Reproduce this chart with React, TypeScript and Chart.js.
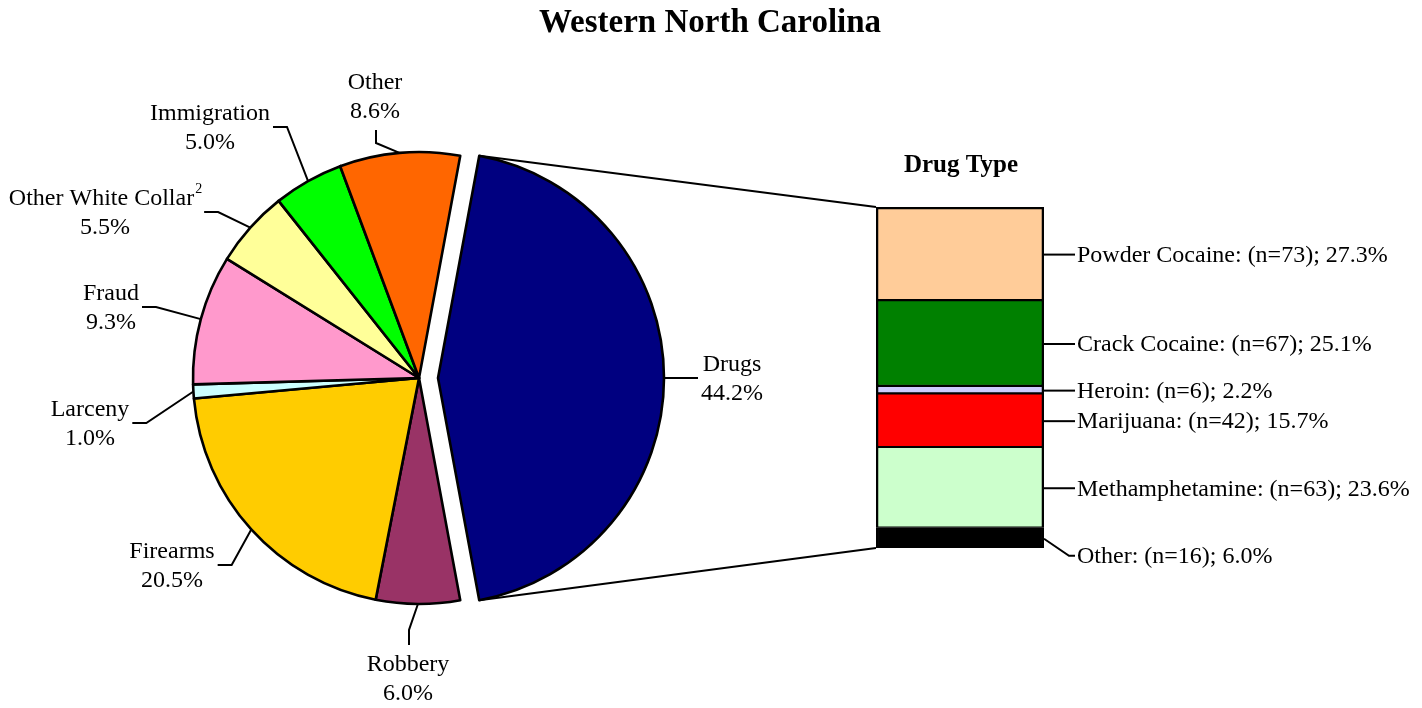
import React, { useEffect, useRef } from 'react';
import { Chart, registerables } from 'chart.js';

Chart.register(...registerables);

// ---------- data ----------
const chartTitle = 'Western North Carolina';
const pieNames = ['Drugs', 'Robbery', 'Firearms', 'Larceny', 'Fraud', 'Other White Collar', 'Immigration', 'Other'];
const pieValues = [44.2, 6.0, 20.5, 1.0, 9.3, 5.5, 5.0, 8.6];
const pieNotes = ['', '', '', '', '', '2', '', ''];
const pieColors = ['#000080', '#993366', '#FFCC00', '#CCFFFF', '#FF99CC', '#FFFF99', '#00FF00', '#FF6600'];

const barTitle = 'Drug Type';
const drugNames = ['Powder Cocaine', 'Crack Cocaine', 'Heroin', 'Marijuana', 'Methamphetamine', 'Other'];
const drugCounts = [73, 67, 6, 42, 63, 16];
const drugPercents = [27.3, 25.1, 2.2, 15.7, 23.6, 6.0];
const drugColors = ['#FFCC99', '#008000', '#CCCCFF', '#FF0000', '#CCFFCC', '#000000'];

// ---------- layout / style ----------
const W = 1422;
const H = 708;
const PIE_CX = 419;
const PIE_CY = 378;
const PIE_R = 226;
const EXPLODE = 19;
const BAR_LEFT = 876;
const BAR_RIGHT = 1044;
const BAR_TOP = 207;
const BAR_BOTTOM = 548;
const FONT = '"Liberation Serif", "Times New Roman", serif';
const LABEL_SIZE = 24;
const LINE_H = 29;
// label centre offsets relative to each slice's centre, and side of the leader line
const pieLabelPos: [number, number, string][] = [
  [294, 1, 'left'],
  [-11, 301, 'top'],
  [-247, 188, 'right'],
  [-329, 46, 'right'],
  [-308, -70, 'right'],
  [-314, -165, 'right'],
  [-209, -250, 'right'],
  [-44, -281, 'bottom'],
];
const barLabelShift = [0, 0, 0, 0, 0, 17];

const pieSum = pieValues.reduce((a, b) => a + b, 0);
const drugSum = drugPercents.reduce((a, b) => a + b, 0);

const piePlugin = {
  id: 'pieDecor',
  afterDatasetUpdate(chart: any, args: any) {
    const el = args.meta.data[0];
    if (!el) return;
    const mid = (el.startAngle + el.endAngle) / 2;
    el.x += Math.cos(mid) * EXPLODE;
    el.y += Math.sin(mid) * EXPLODE;
  },
  afterDraw(chart: any) {
    const ctx: CanvasRenderingContext2D = chart.ctx;
    ctx.save();
    ctx.fillStyle = '#000';
    ctx.strokeStyle = '#000';
    ctx.font = `bold 33px ${FONT}`;
    ctx.textAlign = 'center';
    ctx.textBaseline = 'middle';
    ctx.fillText(chartTitle, W / 2 - 1, 23);

    const meta = chart.getDatasetMeta(0);
    meta.data.forEach((el: any, i: number) => {
      const mid = (el.startAngle + el.endAngle) / 2;
      const ax = el.x + Math.cos(mid) * el.outerRadius;
      const ay = el.y + Math.sin(mid) * el.outerRadius;
      const [dx, dy, side] = pieLabelPos[i];
      const cx = el.x + dx;
      const cy = el.y + dy;
      const l1 = pieNames[i];
      const l2 = pieValues[i].toFixed(1) + '%';
      ctx.font = `${LABEL_SIZE}px ${FONT}`;
      const w1main = ctx.measureText(l1).width;
      const w2 = ctx.measureText(l2).width;
      ctx.font = `14px ${FONT}`;
      const wsup = pieNotes[i] ? ctx.measureText(pieNotes[i]).width : 0;
      const w1 = w1main + wsup;
      const maxW = Math.max(w1, w2);
      const y1 = cy - LINE_H / 2;
      const y2 = cy + LINE_H / 2;
      ctx.font = `${LABEL_SIZE}px ${FONT}`;
      ctx.textAlign = 'left';
      ctx.fillText(l1, cx - w1 / 2, y1);
      if (pieNotes[i]) {
        ctx.font = `14px ${FONT}`;
        ctx.fillText(pieNotes[i], cx - w1 / 2 + w1main + 1, y1 - 9);
        ctx.font = `${LABEL_SIZE}px ${FONT}`;
      }
      ctx.textAlign = 'center';
      ctx.fillText(l2, cx, y2);

      ctx.lineWidth = 2;
      ctx.beginPath();
      if (side === 'right') {
        const sx = cx + maxW / 2 + 3;
        ctx.moveTo(sx, cy - 1);
        ctx.lineTo(sx + 14, cy - 1);
        ctx.lineTo(ax, ay);
      } else if (side === 'left') {
        const sx = cx - maxW / 2 - 3;
        ctx.moveTo(sx, cy - 1);
        ctx.lineTo(ax, ay);
      } else if (side === 'bottom') {
        ctx.moveTo(cx + 1, cy + 33);
        ctx.lineTo(cx + 1, cy + 46);
        ctx.lineTo(ax, ay);
      } else {
        ctx.moveTo(cx + 1, cy - 34);
        ctx.lineTo(cx + 1, cy - 49);
        ctx.lineTo(ax, ay);
      }
      ctx.stroke();
    });
    ctx.restore();
  },
};

function makeBarPlugin(pie: any) {
  return {
    id: 'barDecor',
    afterDraw(chart: any) {
      const ctx: CanvasRenderingContext2D = chart.ctx;
      const area = chart.chartArea;
      const yScale = chart.scales.y;
      ctx.save();
      ctx.fillStyle = '#000';
      ctx.strokeStyle = '#000';
      ctx.font = `bold 25px ${FONT}`;
      ctx.textAlign = 'center';
      ctx.textBaseline = 'middle';
      ctx.fillText(barTitle, (area.left + area.right) / 2 + 1, 166);

      ctx.font = `${LABEL_SIZE}px ${FONT}`;
      ctx.textAlign = 'left';
      ctx.lineWidth = 2;
      const n = drugNames.length;
      for (let i = 0; i < n; i++) {
        const el: any = chart.getDatasetMeta(n - 1 - i).data[0];
        const top = Math.min(el.y, el.base);
        const bot = Math.max(el.y, el.base);
        const mid = (top + bot) / 2 + 1;
        const right = el.x + el.width / 2;
        const ly = mid + barLabelShift[i];
        ctx.beginPath();
        ctx.moveTo(right, mid);
        if (barLabelShift[i]) {
          ctx.lineTo(right + 25, ly);
        }
        ctx.lineTo(right + 31, ly);
        ctx.stroke();
        ctx.fillText(`${drugNames[i]}: (n=${drugCounts[i]}); ${drugPercents[i].toFixed(1)}%`, right + 33, ly + 1);
      }

      // connector lines from exploded slice to the bar
      const d: any = pie.getDatasetMeta(0).data[0];
      if (d) {
        const tx = d.x + Math.cos(d.startAngle) * d.outerRadius;
        const ty = d.y + Math.sin(d.startAngle) * d.outerRadius;
        const bx = d.x + Math.cos(d.endAngle) * d.outerRadius;
        const by = d.y + Math.sin(d.endAngle) * d.outerRadius;
        const barTopY = yScale.getPixelForValue(drugSum);
        const barBotY = yScale.getPixelForValue(0);
        ctx.beginPath();
        ctx.moveTo(tx, ty);
        ctx.lineTo(area.left, barTopY);
        ctx.moveTo(bx, by);
        ctx.lineTo(area.left, barBotY);
        ctx.stroke();
      }
      ctx.restore();
    },
  };
}

export default function App() {
  const pieRef = useRef<HTMLCanvasElement>(null);
  const barRef = useRef<HTMLCanvasElement>(null);

  useEffect(() => {
    if (!pieRef.current || !barRef.current) return;
    const pie = new Chart(pieRef.current, {
      type: 'pie',
      data: {
        labels: pieNames,
        datasets: [
          {
            data: pieValues,
            backgroundColor: pieColors,
            borderColor: '#000',
            borderWidth: 2.6,
            borderJoinStyle: 'round',
          } as any,
        ],
      },
      options: {
        responsive: false,
        animation: false,
        events: [],
        rotation: 90 - (pieValues[0] / pieSum) * 180,
        radius: PIE_R,
        layout: {
          padding: { left: 0, right: W - 2 * PIE_CX, top: 2 * PIE_CY - H, bottom: 0 },
        },
        plugins: { legend: { display: false }, tooltip: { enabled: false }, title: { display: false } },
      } as any,
      plugins: [piePlugin],
    });

    const n = drugNames.length;
    const datasets = drugNames
      .map((name, i) => ({
        label: name,
        data: [drugPercents[i]],
        backgroundColor: drugColors[i],
        borderColor: '#000',
        borderWidth: {
          left: 2.6,
          right: 2.6,
          top: i === 0 ? 2.6 : 1.4,
          bottom: i === n - 1 ? 2.6 : 1.4,
        },
        borderSkipped: false,
        barPercentage: 1,
        categoryPercentage: 1,
      }))
      .reverse();

    const bar = new Chart(barRef.current, {
      type: 'bar',
      data: { labels: ['Drugs'], datasets: datasets as any },
      options: {
        responsive: false,
        animation: false,
        events: [],
        layout: {
          padding: { left: BAR_LEFT, right: W - BAR_RIGHT, top: BAR_TOP, bottom: H - BAR_BOTTOM },
        },
        scales: {
          x: { stacked: true, display: false },
          y: { stacked: true, display: false, min: 0, max: drugSum },
        },
        plugins: { legend: { display: false }, tooltip: { enabled: false } },
      } as any,
      plugins: [makeBarPlugin(pie)],
    });

    return () => {
      bar.destroy();
      pie.destroy();
    };
  }, []);

  return (
    <div style={{ position: 'fixed', left: 0, top: 0, width: W, height: H, background: '#fff' }}>
      <canvas ref={pieRef} width={W} height={H} style={{ position: 'absolute', left: 0, top: 0 }} />
      <canvas ref={barRef} width={W} height={H} style={{ position: 'absolute', left: 0, top: 0 }} />
    </div>
  );
}
